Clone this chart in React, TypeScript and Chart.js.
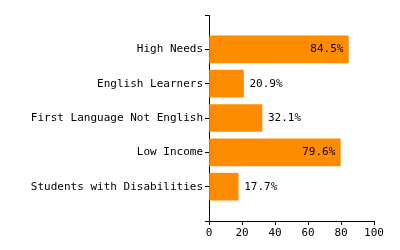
import React, { useEffect, useRef } from "react";
import { Chart, registerables } from "chart.js";

Chart.register(...registerables);

const categories = ["", "High Needs", "English Learners", "First Language Not English", "Low Income", "Students with Disabilities", ""];
const values = [null, 84.5, 20.9, 32.1, 79.6, 17.7, null];
const xTicks = [0, 20, 40, 60, 80, 100];

const FONT = "'DejaVu Sans Mono', monospace";

const valueLabels = {
  id: "valueLabels",
  afterDatasetsDraw(chart: any) {
    const ctx = chart.ctx;
    const meta = chart.getDatasetMeta(0);
    ctx.save();
    ctx.font = `11px ${FONT}`;
    ctx.fillStyle = "#000";
    ctx.textBaseline = "middle";
    meta.data.forEach((bar: any, i: number) => {
      const v = values[i];
      if (v == null) return;
      const text = v.toFixed(1) + "%";
      if (v > 50) {
        ctx.textAlign = "right";
        ctx.fillText(text, bar.x - 5, bar.y);
      } else {
        ctx.textAlign = "left";
        ctx.fillText(text, bar.x + 6, bar.y);
      }
    });
    ctx.restore();
  },
};

export default function App() {
  const ref = useRef<HTMLCanvasElement>(null);
  useEffect(() => {
    const chart = new Chart(ref.current!, {
      type: "bar",
      data: {
        labels: categories,
        datasets: [
          {
            data: values as any,
            backgroundColor: "#FF8C00",
            borderWidth: 0,
            barThickness: 27,
          },
        ],
      },
      options: {
        indexAxis: "y",
        animation: false,
        responsive: false,
        maintainAspectRatio: false,
        layout: { padding: { left: 0, right: 26, top: 15, bottom: 0 } },
        plugins: { legend: { display: false }, tooltip: { enabled: false } },
        scales: {
          y: {
            type: "category",
            offset: false,
            grid: { display: true, offset: false, drawOnChartArea: false, drawTicks: true, tickLength: 4, color: "#000", tickColor: "#000", tickWidth: 1 },
            border: { display: true, color: "#000", width: 1 },
            ticks: { autoSkip: false, padding: 2, color: "#000", font: { family: FONT, size: 11 } },
            afterFit(scale: any) {
              scale.width = 209;
            },
          },
          x: {
            type: "linear",
            min: 0,
            max: 100,
            afterBuildTicks(scale: any) {
              scale.ticks = xTicks.map((v) => ({ value: v }));
            },
            grid: { display: true, drawOnChartArea: false, drawTicks: true, tickLength: 4, color: "#000", tickColor: "#000", tickWidth: 1 },
            border: { display: true, color: "#000", width: 1 },
            ticks: { padding: 2, color: "#000", maxRotation: 0, font: { family: FONT, size: 11 } },
            afterFit(scale: any) {
              scale.height = 29;
            },
          },
        },
      },
      plugins: [valueLabels],
    });
    return () => chart.destroy();
  }, []);
  return (
    <div style={{ position: "fixed", left: 0, top: 0, width: 400, height: 250, background: "#fff" }}>
      <canvas ref={ref} width={400} height={250} style={{ width: 400, height: 250 }} />
    </div>
  );
}
